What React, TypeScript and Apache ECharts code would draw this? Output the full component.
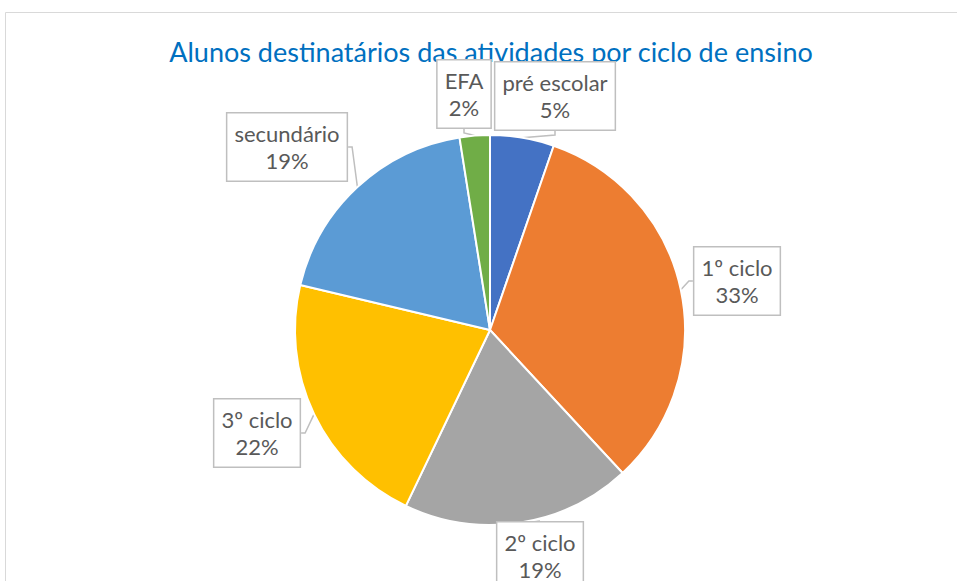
import React, { useEffect, useRef } from "react";
import * as echarts from "echarts";

const categories = ["pré escolar", "1º ciclo", "2º ciclo", "3º ciclo", "secundário", "EFA"];
const values = [5.3, 32.8, 19.0, 21.6, 18.8, 2.5];
const colors = ["#4472C4", "#ED7D31", "#A5A5A5", "#FFC000", "#5B9BD5", "#70AD47"];
const titleText = "Alunos destinatários das atividades por ciclo de ensino";

// label box centres (layout only)
const labelCentres: Record<string, [number, number]> = {
  "pré escolar": [555, 96],
  "1º ciclo": [737, 281],
  "2º ciclo": [540, 556],
  "3º ciclo": [257, 433],
  "secundário": [287, 147],
  "EFA": [464, 94],
};

export default function App() {
  const ref = useRef<HTMLDivElement>(null);
  useEffect(() => {
    document.body.style.margin = "0";
    if (!ref.current) return;
    const chart = echarts.init(ref.current, null, { renderer: "svg" });
    const font = "Lato, 'Open Sans', sans-serif";
    chart.setOption({
      animation: false,
      backgroundColor: "#fff",
      graphic: [
        {
          type: "rect",
          shape: { x: 5.5, y: 12.5, width: 1000, height: 700 },
          style: { fill: "none", stroke: "#d9d9d9", lineWidth: 1 },
          silent: true,
          z: -1,
        },
        {
          type: "text",
          x: 491,
          y: 51,
          style: {
            text: titleText,
            fill: "#0070C0",
            font: `27px ${font}`,
            textAlign: "center",
            textVerticalAlign: "middle",
          },
        },
      ],
      series: [
        {
          type: "pie",
          center: [490, 330],
          radius: 195,
          startAngle: 90,
          clockwise: true,
          percentPrecision: 0,
          itemStyle: { borderColor: "#fff", borderWidth: 2 },
          data: categories.map((c, i) => ({
            name: c,
            value: values[i],
            itemStyle: { color: colors[i] },
          })),
          label: {
            show: true,
            formatter: "{b}\n{d}%",
            color: "#595959",
            fontFamily: font,
            fontSize: 22,
            lineHeight: 27,
            backgroundColor: "#fff",
            borderColor: "#bfbfbf",
            borderWidth: 1.5,
            padding: [7, 7, 6, 7],
            align: "center",
          },
          labelLine: {
            show: true,
            length: 8,
            length2: 4,
            lineStyle: { color: "#bfbfbf", width: 1.5 },
          },
          labelLayout: (params: any) => {
            const name = categories[params.dataIndex];
            const p = labelCentres[name];
            return {
              x: p[0],
              y: p[1],
              align: "center",
              verticalAlign: "middle",
            };
          },
        },
      ],
    });
    return () => chart.dispose();
  }, []);
  return <div ref={ref} style={{ width: 957, height: 581 }} />;
}
